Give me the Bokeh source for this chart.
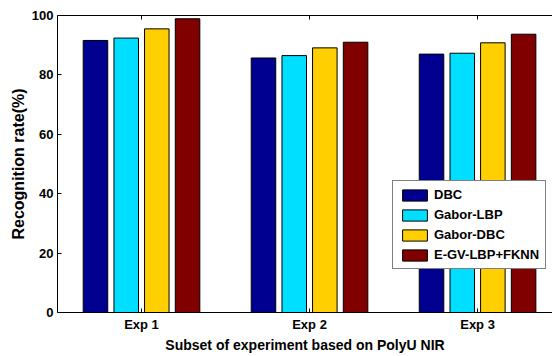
from bokeh.plotting import figure
from bokeh.models import LinearAxis, FixedTicker, Legend, LegendItem, ColumnDataSource
from bokeh.transform import dodge
from bokeh.embed import file_html
from bokeh.resources import INLINE

# ---- data ----
experiments = ["Exp 1", "Exp 2", "Exp 3"]
exp_pos = [1, 2, 3]
methods = ["DBC", "Gabor-LBP", "Gabor-DBC", "E-GV-LBP+FKNN"]
dbc = [91.6, 85.7, 87.0]
gabor_lbp = [92.4, 86.5, 87.3]
gabor_dbc = [95.5, 89.1, 90.8]
egv_lbp_fknn = [98.9, 91.0, 93.7]
y_ticks = [0, 20, 40, 60, 80, 100]

colors = ["#000090", "#00DFFF", "#FFCF00", "#800000"]
offsets = [-0.274, -0.091, 0.091, 0.274]

FONT = "Liberation Sans"

p = figure(width=552, height=356, output_backend="svg", toolbar_location=None,
           x_range=(0.5, 3.446), y_range=(0, 100),
           min_border_left=57, min_border_right=0, min_border_top=15, min_border_bottom=44)
p.outline_line_color = None
p.xgrid.visible = False
p.ygrid.visible = False

src = ColumnDataSource(dict(x=exp_pos, dbc=dbc, gl=gabor_lbp, gd=gabor_dbc, eg=egv_lbp_fknn))
keys = ["dbc", "gl", "gd", "eg"]
renderers = []
for k, off, c in zip(keys, offsets, colors):
    r = p.vbar(x=dodge("x", off), top=k, width=0.146, source=src,
               fill_color=c, line_color="#000000", line_width=1)
    renderers.append(r)

# axes
xa = p.xaxis[0]
xa.ticker = FixedTicker(ticks=exp_pos)
xa.major_label_overrides = {i: lab for i, lab in zip(exp_pos, experiments)}
xa.axis_label = "Subset of experiment based on PolyU NIR"
ya = p.yaxis[0]
ya.ticker = FixedTicker(ticks=y_ticks)
ya.axis_label = "Recognition rate(%)"
for ax in (xa, ya):
    ax.major_tick_in = 4
    ax.major_tick_out = 0
    ax.minor_tick_line_color = None
    ax.axis_line_color = "black"
    ax.major_tick_line_color = "black"
    ax.major_label_text_font = FONT
    ax.major_label_text_font_style = "bold"
    ax.major_label_text_font_size = "13px"
    ax.major_label_text_color = "black"
    ax.axis_label_text_font = FONT
    ax.axis_label_text_font_style = "bold"
    ax.axis_label_text_color = "black"
xa.axis_label_text_font_size = "14px"
ya.axis_label_text_font_size = "16px"
xa.major_label_standoff = 4
xa.axis_label_standoff = 2
ya.major_label_standoff = 4
ya.axis_label_standoff = 2

top = LinearAxis(ticker=FixedTicker(ticks=exp_pos), major_tick_in=4, major_tick_out=0,
                 minor_tick_line_color=None, major_label_text_font_size="0px",
                 major_label_standoff=0, axis_line_color="black")
top.major_label_overrides = {i: "" for i in exp_pos}
p.add_layout(top, "above")

legend = Legend(items=[LegendItem(label=m, renderers=[r]) for m, r in zip(methods, renderers)],
                location=(335, 43))
legend.border_line_color = "black"
legend.border_line_width = 1
legend.background_fill_color = "white"
legend.background_fill_alpha = 1
legend.glyph_width = 31
legend.glyph_height = 14
legend.label_height = 14
legend.spacing = 5
legend.padding = 6
legend.margin = 0
legend.label_standoff = 4
legend.label_text_font = FONT
legend.label_text_font_style = "bold"
legend.label_text_font_size = "13px"
legend.label_text_line_height = 1.0
legend.label_text_color = "black"
p.add_layout(legend, "center")

open("out.html", "w").write(file_html(p, INLINE))
